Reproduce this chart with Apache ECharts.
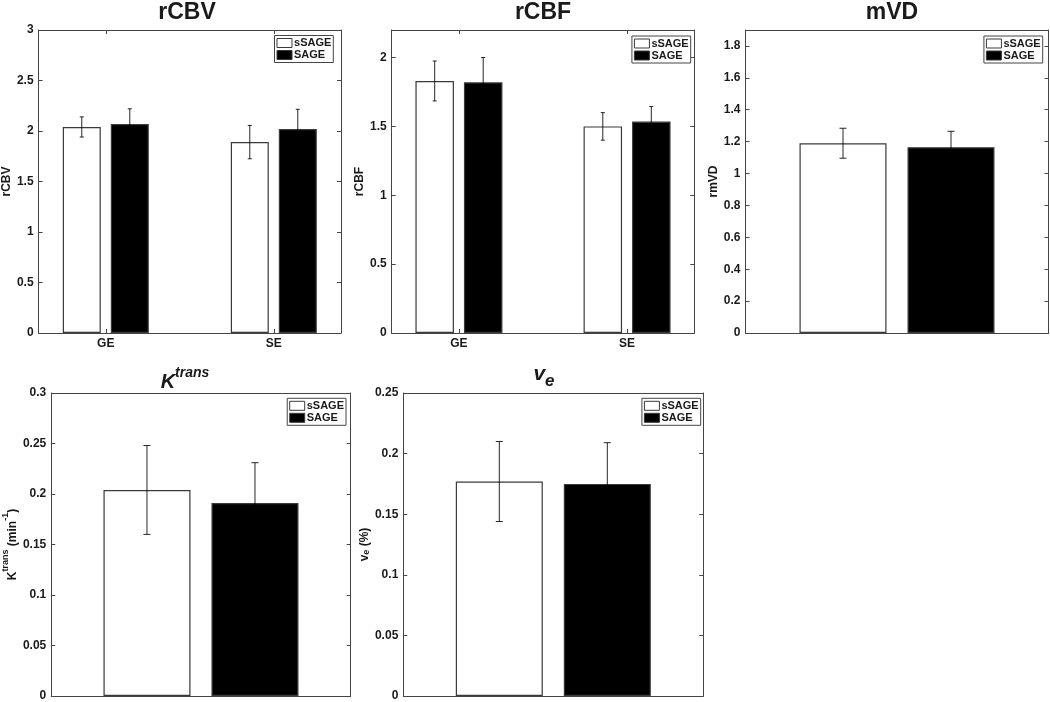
<!DOCTYPE html>
<html>
<head>
<meta charset="utf-8">
<script src="https://cdn.jsdelivr.net/npm/echarts@6/dist/echarts.min.js"></script>
<style>
  html, body { margin: 0; padding: 0; background: #fff; }
  #chart { width: 1050px; height: 702px; }
</style>
</head>
<body>
<div id="chart"></div>
<script>
// ---------------- data ----------------
const categories = ['GE', 'SE'];
const seriesNames = ['sSAGE', 'SAGE'];

const rCBV_sSAGE = [2.04, 1.89];
const rCBV_sSAGE_err = [0.10, 0.165];
const rCBV_SAGE = [2.07, 2.02];
const rCBV_SAGE_err = [0.15, 0.195];

const rCBF_sSAGE = [1.83, 1.50];
const rCBF_sSAGE_err = [0.145, 0.10];
const rCBF_SAGE = [1.82, 1.535];
const rCBF_SAGE_err = [0.18, 0.11];

const mVD_sSAGE = [1.19];
const mVD_sSAGE_err = [0.094];
const mVD_SAGE = [1.165];
const mVD_SAGE_err = [0.10];

const Ktrans_sSAGE = [0.204];
const Ktrans_sSAGE_err = [0.044];
const Ktrans_SAGE = [0.191];
const Ktrans_SAGE_err = [0.040];

const ve_sSAGE = [0.177];
const ve_sSAGE_err = [0.033];
const ve_SAGE = [0.175];
const ve_SAGE_err = [0.034];

// ---------------- layout / style ----------------
const FONT = '"Liberation Sans", Arial, Helvetica, sans-serif';
const FRAME = '#454545';
const TXT = '#1a1a1a';

const panels = [
  { title: '{t|rCBV}', yName: '{b|rCBV}', cats: categories, ymax: 3, yint: 0.5, showMax: true,
    vals: [rCBV_sSAGE, rCBV_SAGE], errs: [rCBV_sSAGE_err, rCBV_SAGE_err],
    grid: { left: 36.5, top: 30, width: 304.5, height: 303 }, xMin: 0.6, xMax: 2.4,
    barW: 38, gap: 10, cap: 2, nameGap: 19, legendRight: 716.7, legendTop: 35.5,
    titleX: 187, titleTop: 0 },
  { title: '{t|rCBF}', yName: '{b|rCBF}', cats: categories, ymax: 2.2, yint: 0.5, showMax: false,
    vals: [rCBF_sSAGE, rCBF_SAGE], errs: [rCBF_sSAGE_err, rCBF_SAGE_err],
    grid: { left: 391.7, top: 30, width: 302.6, height: 303 }, xMin: 0.6, xMax: 2.4,
    barW: 38.5, gap: 10, cap: 2, nameGap: 20, legendRight: 359.3, legendTop: 36,
    titleX: 543, titleTop: 0 },
  { title: '{t|mVD}', yName: '{b|rmVD}', cats: null, ymax: 1.9, yint: 0.2, showMax: false,
    vals: [mVD_sSAGE, mVD_SAGE], errs: [mVD_sSAGE_err, mVD_SAGE_err],
    grid: { left: 745.5, top: 30, width: 303, height: 303 }, xMin: 0.5, xMax: 1.5,
    barW: 87, gap: 21, cap: 3.5, nameGap: 19, legendRight: 7.3, legendTop: 36,
    titleX: 892, titleTop: 0 },
  { title: '{k|K}{s|trans}', yName: '{b|K}{s|trans}{b| (min}{s|-1}{b|)}', cats: null, ymax: 0.3, yint: 0.05, showMax: true,
    vals: [Ktrans_sSAGE, Ktrans_SAGE], errs: [Ktrans_sSAGE_err, Ktrans_SAGE_err],
    grid: { left: 48.3, top: 393, width: 302.4, height: 303 }, xMin: 0.5, xMax: 1.5,
    barW: 87, gap: 21, cap: 3.5, nameGap: 29, legendRight: 704, legendTop: 398.3,
    titleX: 185, titleTop: 366 },
  { title: '{v|v}{e|e}', yName: '{b|v}{u|e}{b| (%)}', cats: null, ymax: 0.25, yint: 0.05, showMax: true,
    vals: [ve_sSAGE, ve_SAGE], errs: [ve_sSAGE_err, ve_SAGE_err],
    grid: { left: 403.3, top: 393, width: 300, height: 303 }, xMin: 0.5, xMax: 1.5,
    barW: 87, gap: 21, cap: 3.5, nameGap: 28, legendRight: 349.3, legendTop: 398.3,
    titleX: 544, titleTop: 363.5 }
];

const titleRich = {
  t: { fontSize: 23, fontWeight: 'bold', fontFamily: FONT, color: TXT, lineHeight: 26 },
  k: { fontSize: 20, fontWeight: 'bold', fontStyle: 'italic', fontFamily: FONT, color: TXT, lineHeight: 26, verticalAlign: 'bottom' },
  s: { fontSize: 14, fontWeight: 'bold', fontStyle: 'italic', fontFamily: FONT, color: TXT, lineHeight: 19, verticalAlign: 'top' },
  v: { fontSize: 21, fontWeight: 'bold', fontStyle: 'italic', fontFamily: FONT, color: TXT, lineHeight: 26, verticalAlign: 'top' },
  e: { fontSize: 17, fontWeight: 'bold', fontStyle: 'italic', fontFamily: FONT, color: TXT, lineHeight: 11, verticalAlign: 'bottom' }
};
const nameRich = {
  b: { fontSize: 12, fontWeight: 'bold', fontFamily: FONT, color: TXT, lineHeight: 18, verticalAlign: 'bottom' },
  s: { fontSize: 9, fontWeight: 'bold', fontFamily: FONT, color: TXT, lineHeight: 10, verticalAlign: 'top' },
  u: { fontSize: 9, fontWeight: 'bold', fontFamily: FONT, color: TXT, lineHeight: 10, verticalAlign: 'bottom' }
};

const option = {
  animation: false,
  backgroundColor: '#fff',
  title: [], grid: [], xAxis: [], yAxis: [], legend: [], series: []
};

panels.forEach((p, gi) => {
  option.grid.push(Object.assign({ containLabel: false, show: false }, p.grid));
  option.title.push({
    text: p.title, left: p.titleX, top: p.titleTop, textAlign: 'center', padding: 0,
    textStyle: { rich: titleRich, fontFamily: FONT }
  });
  const xCustom = p.cats ? p.cats.map((c, k) => k + 1) : [];
  const baseX = {
    type: 'value', gridIndex: gi, min: p.xMin, max: p.xMax,
    splitLine: { show: false },
    axisLine: { show: true, onZero: false, lineStyle: { color: FRAME, width: 1 } }
  };
  option.xAxis.push(Object.assign({}, baseX, {
    position: 'bottom',
    axisTick: { show: !!p.cats, inside: true, length: 4, customValues: xCustom, lineStyle: { color: FRAME } },
    axisLabel: { show: !!p.cats, customValues: xCustom, margin: 5,
      formatter: v => (p.cats ? p.cats[Math.round(v) - 1] : ''),
      fontSize: 12, fontWeight: 'bold', fontFamily: FONT, color: TXT }
  }));
  option.xAxis.push(Object.assign({}, baseX, {
    position: 'top',
    axisTick: { show: !!p.cats, inside: true, length: 4, customValues: xCustom, lineStyle: { color: FRAME } },
    axisLabel: { show: false }
  }));
  const baseY = {
    type: 'value', gridIndex: gi, min: 0, max: p.ymax, interval: p.yint,
    splitLine: { show: false },
    axisLine: { show: true, onZero: false, lineStyle: { color: FRAME, width: 1 } },
    axisTick: { show: true, inside: true, length: 4, lineStyle: { color: FRAME } }
  };
  option.yAxis.push(Object.assign({}, baseY, {
    position: 'left',
    name: p.yName, nameLocation: 'middle', nameGap: p.nameGap,
    nameTextStyle: { rich: nameRich, fontFamily: FONT },
    axisLabel: { show: true, margin: 5, showMaxLabel: p.showMax,
      fontSize: 12, fontWeight: 'bold', fontFamily: FONT, color: TXT }
  }));
  option.yAxis.push(Object.assign({}, baseY, {
    position: 'right',
    axisLabel: { show: false }
  }));

  const xIdx = gi * 2, yIdx = gi * 2;
  const styles = [
    { color: '#ffffff', borderColor: '#3a3a3a', borderWidth: 1.2 },
    { color: '#000000', borderColor: '#3a3a3a', borderWidth: 1.2 }
  ];
  seriesNames.forEach((nm, si) => {
    option.series.push({
      type: 'bar', name: nm, xAxisIndex: xIdx, yAxisIndex: yIdx,
      barWidth: p.barW, barGap: (p.gap / p.barW * 100).toFixed(2) + '%',
      itemStyle: styles[si], emphasis: { disabled: true },
      data: p.vals[si].map((v, k) => [k + 1, v]), z: 2
    });
  });
  seriesNames.forEach((nm, si) => {
    const off = (si === 0 ? -1 : 1) * (p.barW + p.gap) / 2;
    const cap = p.cap;
    option.series.push({
      type: 'custom', xAxisIndex: xIdx, yAxisIndex: yIdx, z: 5, silent: true,
      data: p.vals[si].map((v, k) => [k + 1, v, p.errs[si][k]]),
      renderItem: (params, api) => {
        const x = api.value(0), m = api.value(1), e = api.value(2);
        const hi = api.coord([x, m + e]);
        const lo = api.coord([x, m - e]);
        const cx = hi[0] + off;
        const st = { stroke: '#000', lineWidth: 1, opacity: 0.85 };
        return { type: 'group', children: [
          { type: 'line', shape: { x1: cx, y1: hi[1], x2: cx, y2: lo[1] }, style: st },
          { type: 'line', shape: { x1: cx - cap, y1: hi[1], x2: cx + cap, y2: hi[1] }, style: st },
          { type: 'line', shape: { x1: cx - cap, y1: lo[1], x2: cx + cap, y2: lo[1] }, style: st }
        ]};
      }
    });
  });

  option.legend.push({
    data: seriesNames, orient: 'vertical', right: p.legendRight, top: p.legendTop,
    icon: 'rect', itemWidth: 15, itemHeight: 9, itemGap: 1, padding: [2, 2],
    backgroundColor: '#fff', borderColor: FRAME, borderWidth: 1, borderRadius: 0,
    selectedMode: false,
    itemStyle: { borderColor: '#3a3a3a', borderWidth: 1 },
    textStyle: { fontSize: 11, fontWeight: 'bold', fontFamily: FONT, color: TXT, lineHeight: 11, padding: [0, 0, 0, -3] }
  });
});

const chart = echarts.init(document.getElementById('chart'), null, { renderer: 'canvas' });
chart.setOption(option);
</script>
</body>
</html>
